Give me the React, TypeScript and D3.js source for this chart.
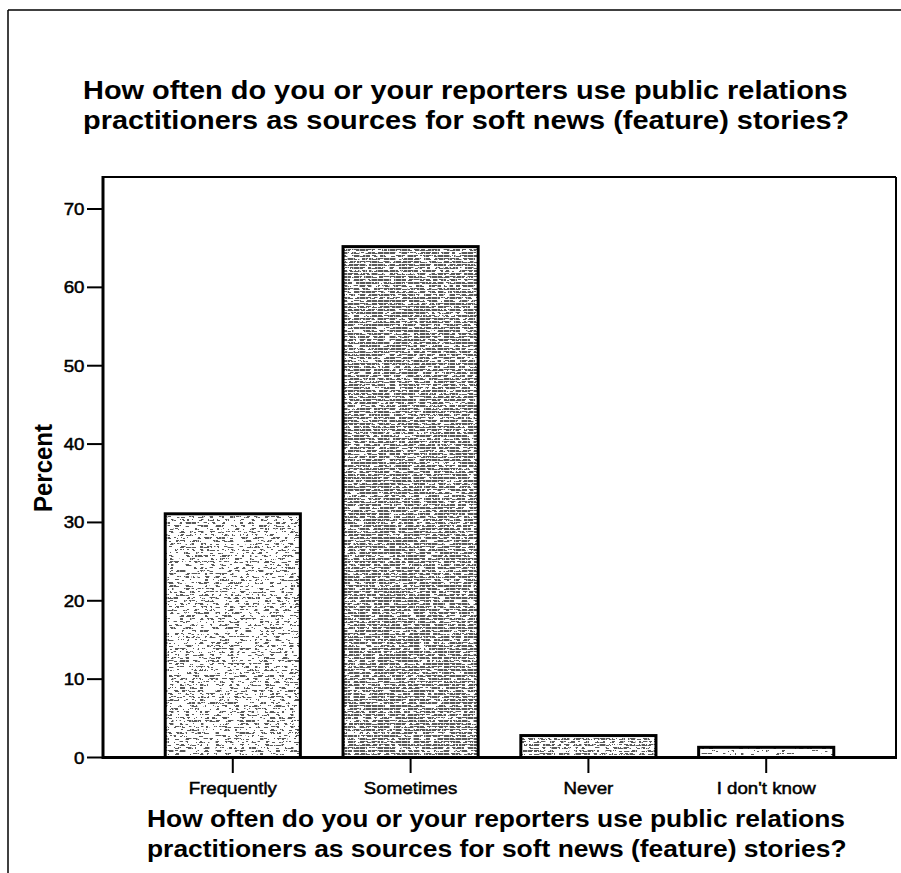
import React from "react";
import * as d3 from "d3";

const categories = ["Frequently", "Sometimes", "Never", "I don't know"];
const percents = [31.1, 65.2, 2.8, 1.3];
const yTickValues = [0, 10, 20, 30, 40, 50, 60, 70];
const titleLines = [
  "How often do you or your reporters use public relations",
  "practitioners as sources for soft news (feature) stories?",
];
const yAxisLabel = "Percent";

const W = 901;
const H = 873;
const plot = { left: 103, right: 896, top: 177, bottom: 757.5 };
const FONT = "'Liberation Sans', Arial, Helvetica, sans-serif";
const SX = 1.1;
// texture threshold per bar (style only): higher = lighter
const barThreshold = [0.55, 0.41, 0.5, 0.62];

function tableFor(th: number) {
  const n = 40;
  const vals: number[] = [];
  for (let i = 0; i < n; i++) vals.push(i / n >= th ? 1 : 0);
  return vals.join(" ");
}

function SText(props: {
  x: number;
  y: number;
  size: number;
  bold?: boolean;
  anchor?: string;
  children: React.ReactNode;
}) {
  const { x, y, size, bold, anchor, children } = props;
  return (
    <text
      transform={`translate(${x},${y}) scale(${SX},1)`}
      fontFamily={FONT}
      fontSize={size}
      fontWeight={bold ? "bold" : "normal"}
      textAnchor={anchor || "start"}
      fill="#000"
      stroke={bold ? "none" : "#000"}
      strokeWidth={bold ? 0 : 0.5}
    >
      {children}
    </text>
  );
}

export default function App() {
  const x = d3
    .scaleBand<string>()
    .domain(categories)
    .range([plot.left, plot.right])
    .paddingInner(0.24)
    .paddingOuter(0.35);
  const y = d3.scaleLinear().domain([0, 70]).range([plot.bottom, 209]);

  return (
    <svg
      width={W}
      height={H}
      viewBox={`0 0 ${W} ${H}`}
      style={{ position: "absolute", left: 0, top: 0, background: "#fff" }}
    >
      <defs>
        {barThreshold.map((th, i) => (
          <filter
            key={i}
            id={`noise${i}`}
            x="0"
            y="0"
            width="1"
            height="1"
            filterUnits="objectBoundingBox"
          >
            <feTurbulence
              type="fractalNoise"
              baseFrequency="0.2 0.4"
              numOctaves={3}
              seed={i * 7 + 3}
              result="n"
            />
            <feColorMatrix
              in="n"
              type="matrix"
              values="0 0 0 0 0.1  0 0 0 0 0.1  0 0 0 0 0.1  1 0 0 0 0"
              result="a"
            />
            <feComponentTransfer in="a" result="t">
              <feFuncA type="discrete" tableValues={tableFor(th)} />
            </feComponentTransfer>
            <feComposite in="t" in2="SourceGraphic" operator="in" />
          </filter>
        ))}
        <pattern id="rows" width={6} height={3} patternUnits="userSpaceOnUse">
          <rect x={0} y={2} width={6} height={1} fill="#fff" />
          <rect x={5} y={0} width={1} height={3} fill="#fff" opacity={0.6} />
        </pattern>
      </defs>
      <rect x={0} y={0} width={W} height={H} fill="#fff" />

      {/* outer frame */}
      <line x1={8} y1={10} x2={W} y2={10} stroke="#000" strokeWidth={1.5} />
      <line x1={8} y1={10} x2={8} y2={H} stroke="#000" strokeWidth={1.5} />

      {/* top title */}
      {titleLines.map((t, i) => (
        <SText key={i} x={83} y={98.5 + i * 30.5} size={26.3} bold>
          {t}
        </SText>
      ))}

      {/* plot box */}
      <line x1={plot.left} y1={plot.top} x2={plot.right} y2={plot.top} stroke="#000" strokeWidth={2} />
      <line x1={plot.right} y1={plot.top} x2={plot.right} y2={plot.bottom} stroke="#000" strokeWidth={2} />

      {/* bars */}
      {categories.map((c, i) => {
        const bx = x(c) as number;
        const bw = x.bandwidth();
        const by = y(percents[i]);
        const bh = plot.bottom - by;
        return (
          <g key={c}>
            <rect x={bx} y={by} width={bw} height={bh} fill="#fff" />
            <rect
              x={bx}
              y={by}
              width={bw}
              height={bh}
              fill="#000"
              filter={`url(#noise${i})`}
            />
            <rect x={bx} y={by} width={bw} height={bh} fill="url(#rows)" />
            <rect
              x={bx}
              y={by}
              width={bw}
              height={bh}
              fill="none"
              stroke="#000"
              strokeWidth={3}
            />
          </g>
        );
      })}

      {/* axes lines */}
      <line x1={plot.left} y1={plot.top - 1} x2={plot.left} y2={plot.bottom + 1.5} stroke="#000" strokeWidth={3} />
      <line x1={plot.left} y1={plot.bottom} x2={plot.right + 1} y2={plot.bottom} stroke="#000" strokeWidth={3} />

      {/* y ticks */}
      {yTickValues.map((v) => (
        <g key={v}>
          <line x1={87} x2={plot.left} y1={y(v)} y2={y(v)} stroke="#000" strokeWidth={2} />
          <SText x={84.5} y={y(v) + 6} size={17} anchor="end">
            {v}
          </SText>
        </g>
      ))}

      {/* x ticks */}
      {categories.map((c) => {
        const cx = (x(c) as number) + x.bandwidth() / 2;
        return (
          <g key={c}>
            <line x1={cx} x2={cx} y1={plot.bottom} y2={773} stroke="#000" strokeWidth={2} />
            <SText x={cx} y={794} size={17} anchor="middle">
              {c}
            </SText>
          </g>
        );
      })}

      {/* y axis label */}
      <text
        transform={`translate(52,468) rotate(-90) scale(1,${SX})`}
        fontFamily={FONT}
        fontSize={24}
        fontWeight="bold"
        textAnchor="middle"
      >
        {yAxisLabel}
      </text>

      {/* x axis title */}
      {titleLines.map((t, i) => (
        <SText key={i} x={147} y={826.7 + i * 30} size={24} bold>
          {t}
        </SText>
      ))}
    </svg>
  );
}
